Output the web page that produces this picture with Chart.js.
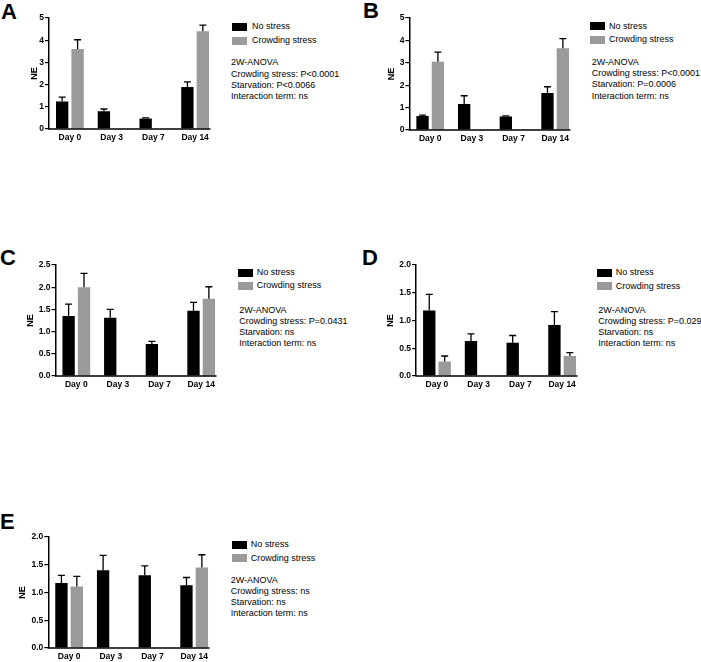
<!DOCTYPE html>
<html>
<head>
<meta charset="utf-8">
<script src="https://cdn.jsdelivr.net/npm/chart.js@4.4.1/dist/chart.umd.min.js"></script>
<style>
  body { margin: 0; background: #fff; }
  #page { position: relative; width: 701px; height: 662px; overflow: hidden; font-family: "Liberation Sans", Arial, Helvetica, sans-serif; color: #000; }
  canvas { position: absolute; }
  .letter { position: absolute; font-weight: bold; font-size: 22px; line-height: 22px; }
  .legend-row { position: absolute; font-size: 9px; line-height: 11px; white-space: nowrap; }
  .legend-row i { position: absolute; left: 0; top: 1.5px; width: 15px; height: 8px; }
  .stats { position: absolute; font-size: 9px; line-height: 11.3px; white-space: nowrap; }
</style>
</head>
<body>
<div id="page"></div>
<script>
// shared categories / series
const days = ['Day 0', 'Day 3', 'Day 7', 'Day 14'];
const seriesNames = ['No stress', 'Crowding stress'];

// panel A
const aNoStress = [1.24, 0.80, 0.47, 1.89];
const aNoStressErr = [0.20, 0.10, 0.03, 0.23];
const aCrowding = [3.60, null, null, 4.40];
const aCrowdingErr = [0.42, null, null, 0.28];
const aYTicks = [0, 1, 2, 3, 4, 5];
const aStats = ['2W-ANOVA', 'Crowding stress: P<0.0001', 'Starvation: P<0.0066', 'Interaction term: ns'];

// panel B
const bNoStress = [0.62, 1.16, 0.60, 1.65];
const bNoStressErr = [0.04, 0.37, 0.03, 0.28];
const bCrowding = [3.05, null, null, 3.65];
const bCrowdingErr = [0.43, null, null, 0.43];
const bYTicks = [0, 1, 2, 3, 4, 5];
const bStats = ['2W-ANOVA', 'Crowding stress: P<0.0001', 'Starvation: P=0.0006', 'Interaction term: ns'];

// panel C
const cNoStress = [1.35, 1.31, 0.72, 1.47];
const cNoStressErr = [0.27, 0.19, 0.06, 0.19];
const cCrowding = [2.00, null, null, 1.74];
const cCrowdingErr = [0.31, null, null, 0.27];
const cYTicks = [0, 0.5, 1.0, 1.5, 2.0, 2.5];
const cStats = ['2W-ANOVA', 'Crowding stress: P=0.0431', 'Starvation: ns', 'Interaction term: ns'];

// panel D
const dNoStress = [1.18, 0.63, 0.60, 0.92];
const dNoStressErr = [0.29, 0.13, 0.13, 0.24];
const dCrowding = [0.26, null, null, 0.36];
const dCrowdingErr = [0.10, null, null, 0.06];
const dYTicks = [0, 0.5, 1.0, 1.5, 2.0];
const dStats = ['2W-ANOVA', 'Crowding stress: P=0.029', 'Starvation: ns', 'Interaction term: ns'];

// panel E
const eNoStress = [1.17, 1.40, 1.31, 1.13];
const eNoStressErr = [0.14, 0.27, 0.17, 0.14];
const eCrowding = [1.11, null, null, 1.45];
const eCrowdingErr = [0.18, null, null, 0.23];
const eYTicks = [0, 0.5, 1.0, 1.5, 2.0];
const eStats = ['2W-ANOVA', 'Crowding stress: ns', 'Starvation: ns', 'Interaction term: ns'];

const BLACK = '#000000';
const GREY = '#9a9a9a';
const FONT = '"Liberation Sans", Arial, Helvetica, sans-serif';

// layout of each panel on the page (plot = [left, right, top, bottom])
const panels = [
  { letter: 'A', letterPos: [1, 1.2], plot: [48.6, 215.3, 18.3, 129.3], titleX: 34, boxX: 232, textX: 252, rows: [26.7, 40.8], statsPos: [231, 57.3],
    noStress: aNoStress, noStressErr: aNoStressErr, crowding: aCrowding, crowdingErr: aCrowdingErr, yTicks: aYTicks, stats: aStats, decimals: 0 },
  { letter: 'B', letterPos: [363, 0.2], plot: [409, 575.7, 18.3, 130], titleX: 391, boxX: 590, textX: 609, rows: [26, 39.7], statsPos: [591.7, 56.9],
    noStress: bNoStress, noStressErr: bNoStressErr, crowding: bCrowding, crowdingErr: bCrowdingErr, yTicks: bYTicks, stats: bStats, decimals: 0 },
  { letter: 'C', letterPos: [0, 247.2], plot: [55.8, 222.5, 265, 376], titleX: 30.7, boxX: 238.3, textX: 256.7, rows: [272.5, 285.8], statsPos: [239.3, 304.6],
    noStress: cNoStress, noStressErr: cNoStressErr, crowding: cCrowding, crowdingErr: cCrowdingErr, yTicks: cYTicks, stats: cStats, decimals: 1 },
  { letter: 'D', letterPos: [362, 247.2], plot: [416, 582.7, 265, 376], titleX: 390.3, boxX: 596.7, textX: 615.7, rows: [272.5, 286], statsPos: [598.3, 304.6],
    noStress: dNoStress, noStressErr: dNoStressErr, crowding: dCrowding, crowdingErr: dCrowdingErr, yTicks: dYTicks, stats: dStats, decimals: 1 },
  { letter: 'E', letterPos: [0, 511.2], plot: [48.7, 215.4, 536.7, 647.7], titleX: 22.8, boxX: 231.7, textX: 250.7, rows: [544.7, 558.3], statsPos: [230.7, 574.6],
    noStress: eNoStress, noStressErr: eNoStressErr, crowding: eCrowding, crowdingErr: eCrowdingErr, yTicks: eYTicks, stats: eStats, decimals: 1 }
];

// upward-only error bars with a cap, plus an x axis line that stops short of the edge
const errorBars = {
  id: 'errorBars',
  afterDatasetsDraw(chart) {
    const { ctx, chartArea, scales } = chart;
    ctx.save();
    ctx.strokeStyle = BLACK;
    ctx.lineWidth = 1.3;
    chart.data.datasets.forEach((ds, i) => {
      chart.getDatasetMeta(i).data.forEach((bar, j) => {
        const v = ds.data[j];
        const err = ds.errors[j];
        if (v == null || err == null) return;
        const yTop = scales.y.getPixelForValue(v + err);
        ctx.beginPath();
        ctx.moveTo(bar.x, bar.y);
        ctx.lineTo(bar.x, yTop);
        ctx.moveTo(bar.x - 3.5, yTop);
        ctx.lineTo(bar.x + 3.5, yTop);
        ctx.stroke();
      });
    });
    ctx.lineWidth = 1.5;
    ctx.beginPath();
    ctx.moveTo(chartArea.left - 0.75, chartArea.bottom);
    ctx.lineTo(chartArea.right - 5.5, chartArea.bottom);
    ctx.stroke();
    ctx.restore();
  }
};

const page = document.getElementById('page');

function addDiv(cls, left, top, html) {
  const el = document.createElement('div');
  el.className = cls;
  el.style.left = left + 'px';
  el.style.top = top + 'px';
  el.innerHTML = html;
  page.appendChild(el);
  return el;
}

function buildPanel(p) {
  const [left, right, top, bottom] = p.plot;
  const cx = p.titleX - 5.4;
  const cy = top - 12;
  const cw = Math.round(right + 2 - cx);
  const ch = Math.round(bottom + 22 - cy);

  const canvas = document.createElement('canvas');
  canvas.width = cw;
  canvas.height = ch;
  canvas.style.left = cx + 'px';
  canvas.style.top = cy + 'px';
  page.appendChild(canvas);

  const yMax = p.yTicks[p.yTicks.length - 1];
  const yStep = p.yTicks[1] - p.yTicks[0];

  new Chart(canvas, {
    type: 'bar',
    data: {
      labels: days,
      datasets: [
        { label: seriesNames[0], data: p.noStress, errors: p.noStressErr, backgroundColor: BLACK, borderWidth: 0, categoryPercentage: 0.74, barPercentage: 0.8 },
        { label: seriesNames[1], data: p.crowding, errors: p.crowdingErr, backgroundColor: GREY, borderWidth: 0, categoryPercentage: 0.74, barPercentage: 0.8 }
      ]
    },
    options: {
      responsive: false,
      devicePixelRatio: 1,
      animation: false,
      layout: { padding: { left: 0, top: 12, right: 2, bottom: 0 } },
      plugins: { legend: { display: false }, tooltip: { enabled: false } },
      scales: {
        x: {
          grid: { display: false, drawTicks: false },
          border: { display: false },
          ticks: { color: BLACK, font: { family: FONT, size: 8.5, weight: 'bold' }, padding: 4, maxRotation: 0, autoSkip: false },
          afterFit: s => { s.height = 22; }
        },
        y: {
          min: 0,
          max: yMax,
          grid: { display: true, drawOnChartArea: false, drawTicks: true, tickLength: 4, color: BLACK, lineWidth: 1.2 },
          border: { display: true, color: BLACK, width: 1.5 },
          ticks: { stepSize: yStep, color: BLACK, padding: 1, font: { family: FONT, size: 8.5, weight: 'bold' },
                   callback: v => Number(v).toFixed(p.decimals) },
          title: { display: true, text: 'NE', color: BLACK, padding: 0, font: { family: FONT, size: 9, weight: 'bold', lineHeight: 1.2 } },
          afterFit: s => { s.width = left - cx; }
        }
      }
    },
    plugins: [errorBars]
  });

  addDiv('letter', p.letterPos[0], p.letterPos[1], p.letter);

  [BLACK, GREY].forEach((color, k) => {
    const row = addDiv('legend-row', p.boxX, p.rows[k] - 5.5, '');
    const box = document.createElement('i');
    box.style.background = color;
    row.appendChild(box);
    const label = document.createElement('span');
    label.style.position = 'absolute';
    label.style.left = (p.textX - p.boxX) + 'px';
    label.textContent = seriesNames[k];
    row.appendChild(label);
  });

  addDiv('stats', p.statsPos[0], p.statsPos[1], p.stats.join('<br>'));
}

panels.forEach(buildPanel);
</script>
</body>
</html>
